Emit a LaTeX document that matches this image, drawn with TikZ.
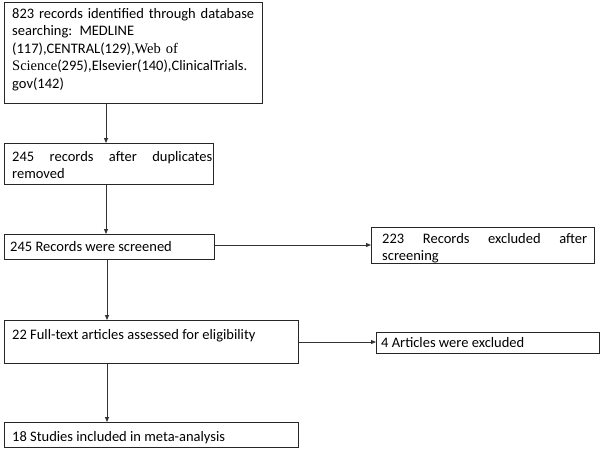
\documentclass[tikz,border=0pt]{standalone}
\usepackage{fontspec}
\setmainfont{Carlito}
\newfontfamily\tnr{Liberation Serif}
\usetikzlibrary{arrows.meta}
\begin{document}
\begin{tikzpicture}[x=1pt,y=-1pt,
  box/.style={draw=black!85,line width=0.9pt,inner sep=0pt,anchor=north west},
  txt/.style={inner sep=0pt,anchor=base west,font=\fontsize{14.5}{17.5}\selectfont},
  arr/.style={draw=black!80,line width=0.8pt,-{Triangle[length=5pt,width=4pt]}}]
\useasboundingbox (0,0) rectangle (600,456);
% boxes
\node[box,minimum width=258pt,minimum height=101pt] (b1) at (4,2) {};
\node[box,minimum width=209pt,minimum height=41pt] (b2) at (4,143) {};
\node[box,minimum width=210pt,minimum height=25pt] (b3) at (4,234) {};
\node[box,minimum width=223pt,minimum height=36pt] (b4) at (371,227) {};
\node[box,minimum width=294pt,minimum height=43pt] (b5) at (4,320) {};
\node[box,minimum width=223pt,minimum height=21pt] (b5x) at (376,332) {};
\node[box,minimum width=294pt,minimum height=25pt] (b6) at (4,422) {};
% texts
\node[txt,text width=252pt] (t1) at (12,18) {823 records identified through database\\
searching: MEDLINE\\
(117),CENTRAL(129),{\tnr Web of}\\
{\tnr Science}(295),Elsevier(140),ClinicalTrials.\\
gov(142)};
\node[txt,text width=200pt] (t2) at (12,161) {245\hfill records\hfill after\hfill duplicates\\removed};
\node[txt] (t3) at (10,251) {245 Records were screened};
\node[txt,text width=205pt] (t4) at (382,243) {223\hfill Records\hfill excluded\hfill after\\screening};
\node[txt] (t5) at (12,339) {22 Full-text articles assessed for eligibility};
\node[txt] (t5x) at (381,347) {4 Articles were excluded};
\node[txt] (t6) at (12,441) {18 Studies included in meta-analysis};
% connectors
\coordinate (cx) at (106,0);
\coordinate (cy) at (107,0);
\draw[arr] (b1.south -| cx) -- (b2.north -| cx);
\draw[arr] (b2.south -| cx) -- (b3.north -| cx);
\draw[arr] (b3.south -| cy) -- (b5.north -| cy);
\draw[arr] (b5.south -| cy) -- (b6.north -| cy);
\coordinate (h1) at (0,245);
\coordinate (h2) at (0,342);
\draw[arr] (b3.east |- h1) -- (b4.west |- h1);
\draw[arr] (b5.east |- h2) -- (b5x.west |- h2);
\end{tikzpicture}
\end{document}
